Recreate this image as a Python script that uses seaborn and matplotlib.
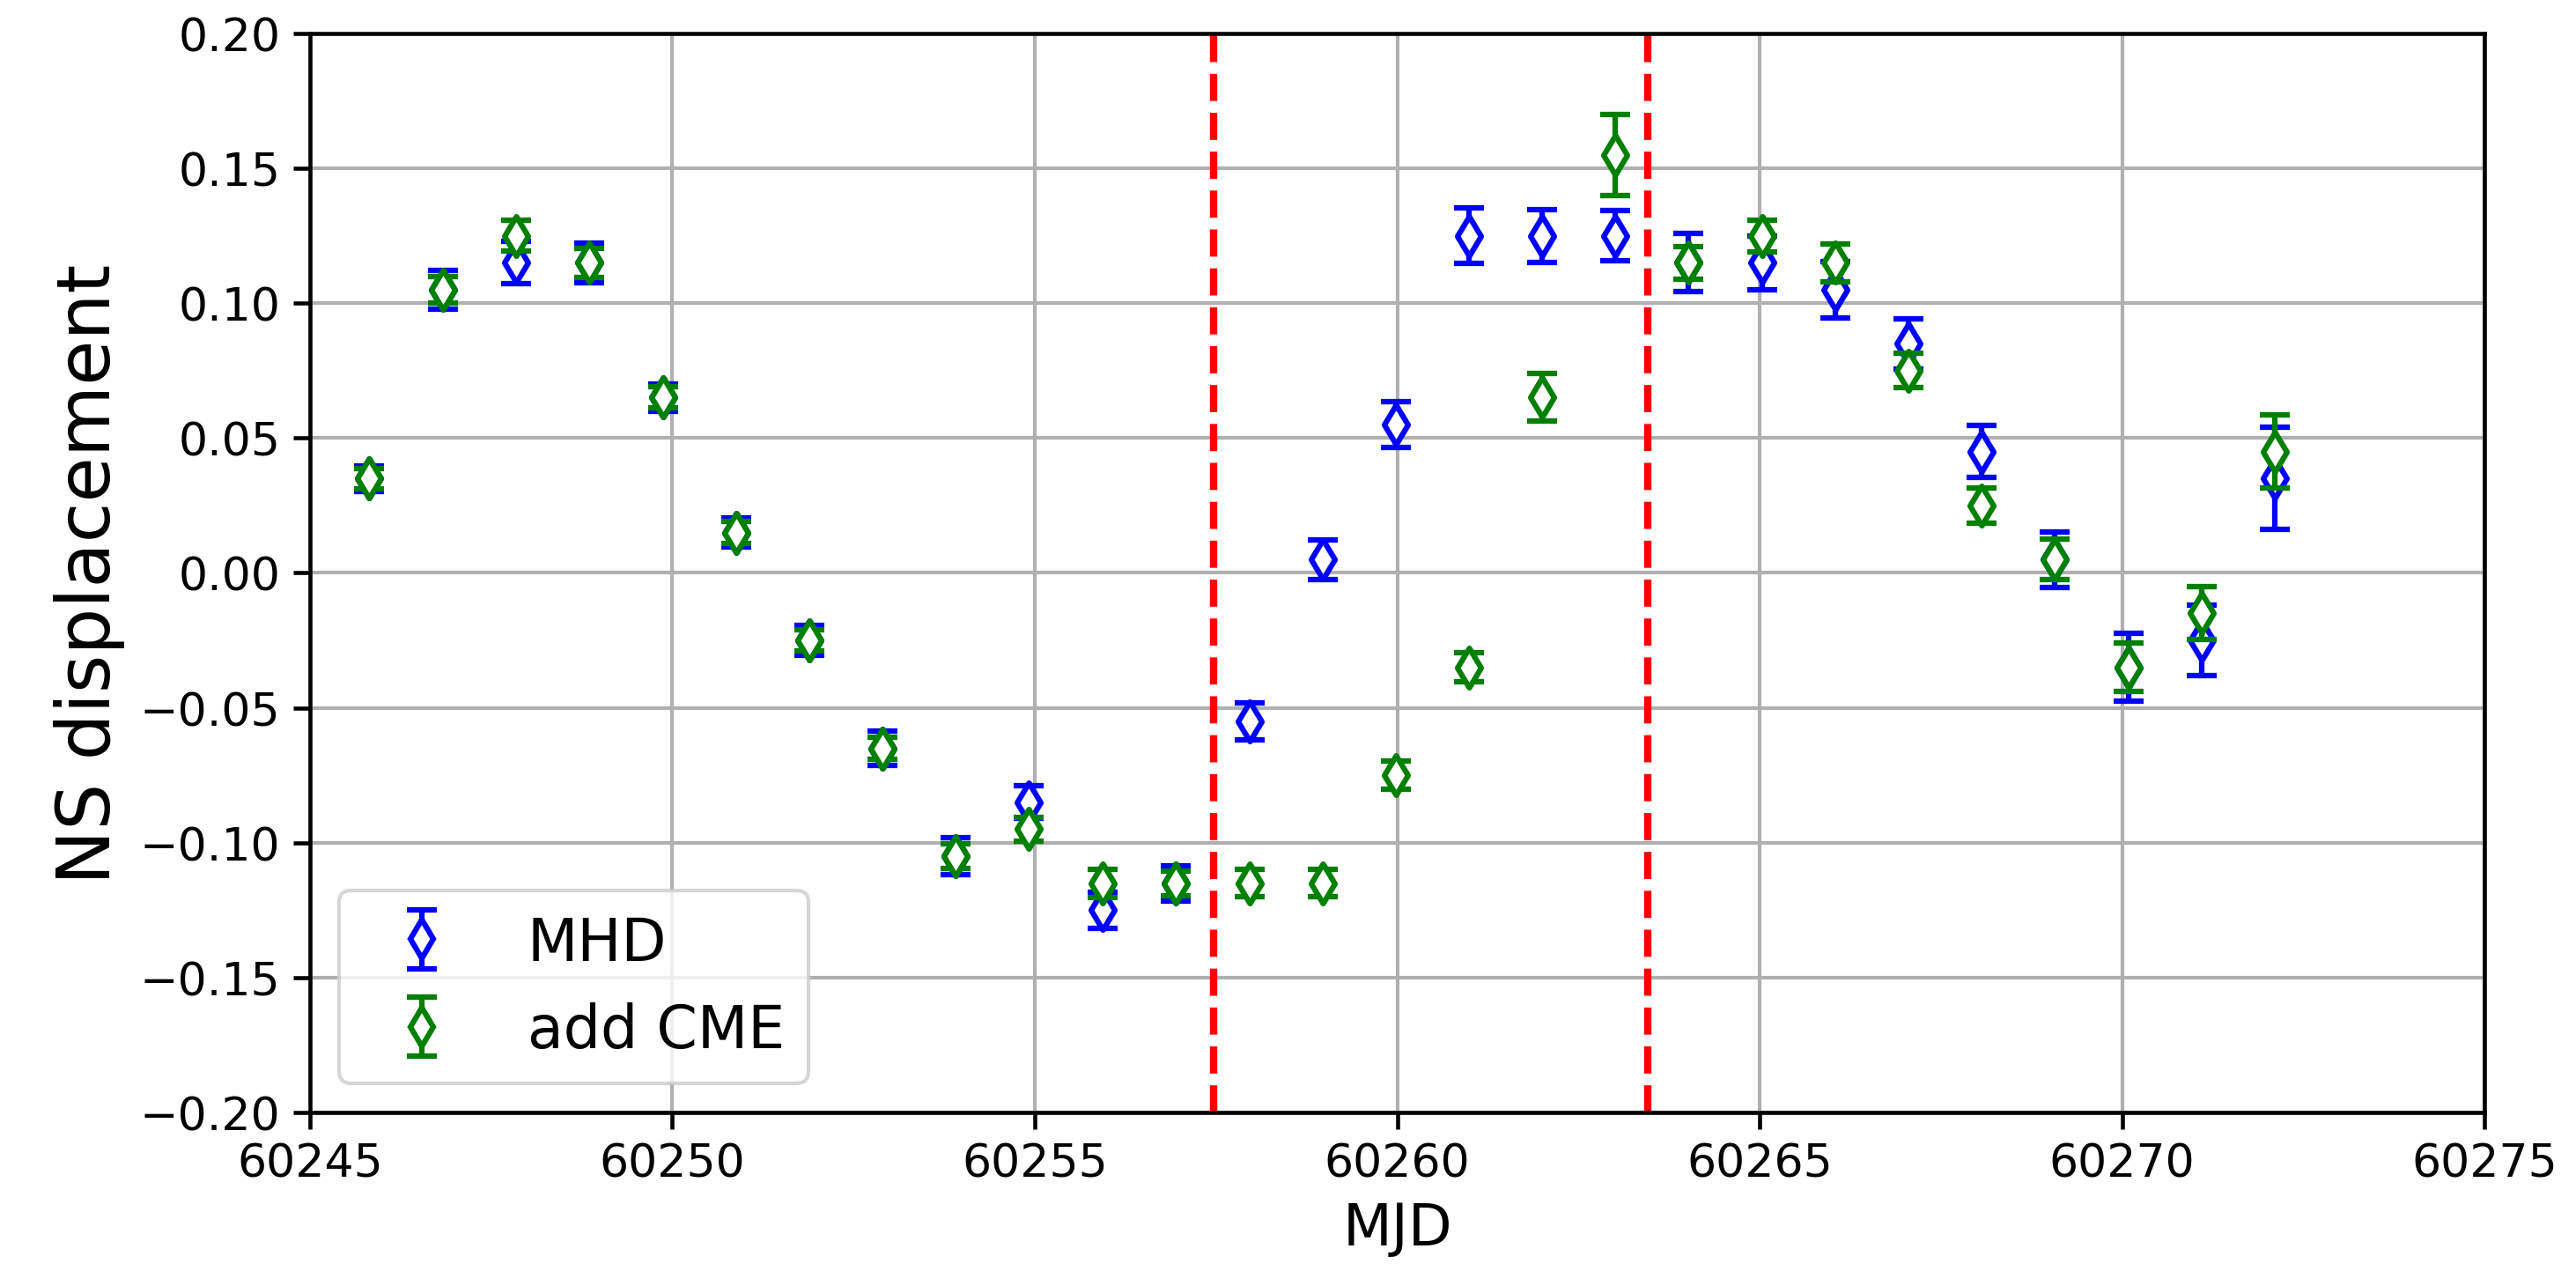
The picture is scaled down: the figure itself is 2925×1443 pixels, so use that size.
import numpy as np
import pandas as pd
import matplotlib
matplotlib.use("Agg")
import matplotlib.pyplot as plt
from matplotlib.lines import Line2D
import seaborn as sns

# observation epochs
mjd = [60245.82, 60246.83, 60247.84, 60248.85, 60249.87, 60250.88, 60251.89,
       60252.90, 60253.91, 60254.92, 60255.93, 60256.94, 60257.96, 60258.97,
       60259.98, 60260.99, 60262.00, 60263.01, 60264.02, 60265.03, 60266.04,
       60267.05, 60268.06, 60269.07, 60270.09, 60271.10, 60272.11]

mhd = [0.035, 0.105, 0.115, 0.115, 0.065, 0.015, -0.025, -0.065, -0.105, -0.085,
       -0.125, -0.115, -0.055, 0.005, 0.055, 0.125, 0.125, 0.125, 0.115, 0.115,
       0.105, 0.085, 0.045, 0.005, -0.035, -0.025, 0.035]
mhd_err = [0.0048, 0.0071, 0.0079, 0.0074, 0.0051, 0.0053, 0.0057, 0.0063, 0.0070,
           0.0060, 0.0067, 0.0065, 0.0068, 0.0073, 0.0084, 0.0102, 0.0098, 0.0092,
           0.0108, 0.0099, 0.0105, 0.0093, 0.0097, 0.0103, 0.0125, 0.0131, 0.0189]

cme = [0.035, 0.105, 0.125, 0.115, 0.065, 0.015, -0.025, -0.065, -0.105, -0.095,
       -0.115, -0.115, -0.115, -0.115, -0.075, -0.035, 0.065, 0.155, 0.115, 0.125,
       0.115, 0.075, 0.025, 0.005, -0.035, -0.015, 0.045]
cme_err = [0.0037, 0.0048, 0.0057, 0.0053, 0.0039, 0.0040, 0.0039, 0.0042, 0.0047,
           0.0045, 0.0052, 0.0046, 0.0050, 0.0050, 0.0052, 0.0054, 0.0088, 0.0150,
           0.0060, 0.0059, 0.0071, 0.0063, 0.0066, 0.0076, 0.0090, 0.0098, 0.0135]

event_lines = [60257.47, 60263.46]

series = [("MHD", mhd, mhd_err, "blue"), ("add CME", cme, cme_err, "green")]

sns.set_style("ticks")
plt.rcParams['font.family'] = ['DejaVu Sans']
plt.rcParams['text.color'] = 'black'
plt.rcParams['axes.labelcolor'] = 'black'
plt.rcParams['xtick.color'] = 'black'
plt.rcParams['ytick.color'] = 'black'

fig = plt.figure(figsize=(9.75, 4.8133), dpi=300)
ax = fig.add_axes([0.1203, 0.1247, 0.8442, 0.8483])

handles = []
z = 3
for name, vals, errs, col in series:
    df = pd.DataFrame({"MJD": mjd, "disp": vals, "err": errs})
    eb = ax.errorbar(df["MJD"], df["disp"], yerr=df["err"], fmt="none",
                     ecolor=col, elinewidth=1.5, capsize=4, capthick=1.5, zorder=z)
    sns.scatterplot(data=df, x="MJD", y="disp", ax=ax, marker="d", s=58,
                    facecolor="white", edgecolor=col, linewidth=1.5, zorder=z + 1)
    mk = Line2D([], [], marker="d", ls="none", ms=7.6, mfc="white", mec=col, mew=1.5)
    handles.append(((eb, mk), name))
    z += 2

for xv in event_lines:
    ax.axvline(xv, color="red", ls="--", lw=2, zorder=2)

ax.set_xlim(60245, 60275)
ax.set_ylim(-0.2, 0.2)
ax.set_yticks(np.arange(-0.2, 0.201, 0.05))
ax.grid(True, color="#b0b0b0", lw=1.0, zorder=0)
ax.set_axisbelow(True)

for sp in ax.spines.values():
    sp.set_color("black")
    sp.set_linewidth(1.1)
ax.tick_params(axis="both", direction="out", length=4.5, width=1.1,
               color="black", labelsize=12.5, labelcolor="black")

ax.set_xlabel("MJD", fontsize=15.5)
ax.set_ylabel("NS displacement", fontsize=20)

ax.legend([h for h, _ in handles], [n for _, n in handles], loc="lower left",
          fontsize=16, framealpha=0.8, edgecolor="#cccccc", fancybox=True)

fig.savefig("out.png", dpi=300)
